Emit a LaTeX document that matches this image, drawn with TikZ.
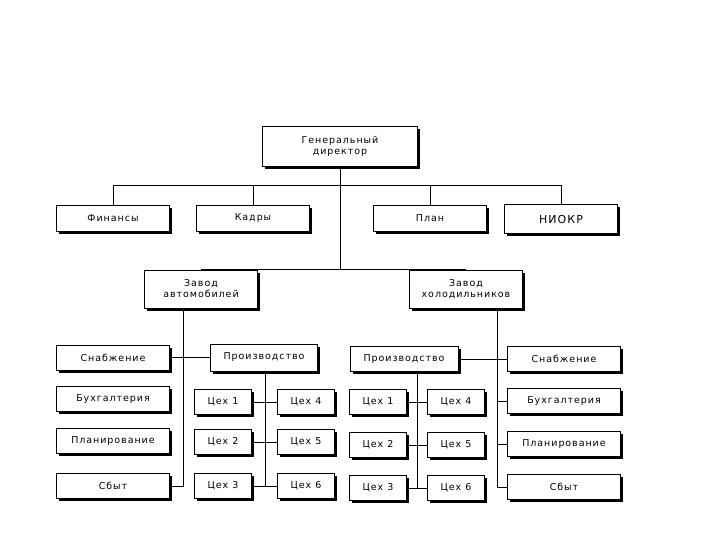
\documentclass[tikz,border=0pt]{standalone}
\usepackage{fontspec}
\setmainfont{Liberation Sans}
\newfontfamily\boxfont[LetterSpace=10]{DejaVu Sans}
\usepackage{tikz}
\usetikzlibrary{positioning, shadows}

\begin{document}
\begin{tikzpicture}[
    x=1pt, y=-1pt,
    unit/.style={rectangle, draw, fill=white, line width=0.7pt,
                 inner sep=1pt, align=center,
                 font=\boxfont\fontsize{9.5}{11}\selectfont,
                 minimum width=113pt, minimum height=26pt,
                 drop shadow={shadow xshift=2.8pt, shadow yshift=-2.8pt,
                              fill=black, opacity=1}},
    shop/.style={unit, minimum width=57pt, minimum height=25pt},
    link/.style={line width=0.9pt}
]
\useasboundingbox (0,0) rectangle (720,540);
% verkhnii uroven
\node[unit, minimum width=155pt, minimum height=40pt] (gd) at (340,146)
    {Генеральный\\директор};
\node[unit] (fin) at (113,218) {Финансы};
\node[unit] (kad) at (253,218) {Кадры};
\node[unit] (plan) at (430,218) {План};
\node[unit, minimum height=29pt, font=\boxfont\fontsize{11}{13}\selectfont]
    (niokr) at (561,219) {НИОКР};
\coordinate (bus) at (340,185.5);
\draw[link] (fin.north) |- (bus) -| (niokr.north);
\draw[link] (kad.north) -- (kad.north |- bus);
\draw[link] (plan.north) -- (plan.north |- bus);
% zavody
\node[unit, minimum height=38pt] (za) at (201,289) {Завод\\автомобилей};
\node[unit, minimum height=38pt] (zh) at (466,289) {Завод\\холодильников};
\draw[link] (gd.south) -- (gd.south |- za.north);
\draw[link] (za.north) -- (zh.north);
% zavod avtomobilei
\foreach \n/\t/\y in {snA/Снабжение/357.5, buhA/Бухгалтерия/399,
                      planA/Планирование/441, sbA/Сбыт/486}{
    \node[unit, minimum height=25pt] (\n) at (113,\y) {\t};
}
\node[unit, minimum width=107pt, minimum height=27pt] (prA) at (264,357.5) {Производство};
\draw[link] ([xshift=-18pt]za.south) |- (sbA.east);
\draw[link] (snA.east) -- (prA.west);
\foreach \i/\y in {1/402, 2/442, 3/486}{
    \pgfmathtruncatemacro{\j}{\i+3}
    \node[shop] (cA\i) at (223,\y) {Цех \i};
    \node[shop] (cA\j) at (306,\y) {Цех \j};
    \draw[link] (cA\i) -- (cA\j);
}
\draw[link] ([xshift=1pt]prA.south) -- ([xshift=1pt]prA.south |- cA3);
% zavod kholodilnikov
\foreach \n/\t/\y in {snH/Снабжение/359, buhH/Бухгалтерия/401,
                      planH/Планирование/444, sbH/Сбыт/487}{
    \node[unit, minimum height=25pt] (\n) at (564,\y) {\t};
}
\node[unit, minimum width=108pt, minimum height=25pt] (prH) at (404,359) {Производство};
\draw[link] ([xshift=31pt]zh.south) -- ([xshift=31pt]zh.south |- sbH) -- (sbH.west);
\draw[link] (prH.east) -- (snH.west);
\draw[link] (buhH.west) -- +(-10,0);
\draw[link] (planH.west) -- +(-10,0);
\foreach \i/\y in {1/402, 2/445, 3/488}{
    \pgfmathtruncatemacro{\j}{\i+3}
    \node[shop] (cH\i) at (378,\y) {Цех \i};
    \node[shop] (cH\j) at (456,\y) {Цех \j};
    \draw[link] (cH\i) -- (cH\j);
}
\draw[link] ([xshift=13pt]prH.south) -- ([xshift=13pt]prH.south |- cH3);
\end{tikzpicture}
\end{document}
